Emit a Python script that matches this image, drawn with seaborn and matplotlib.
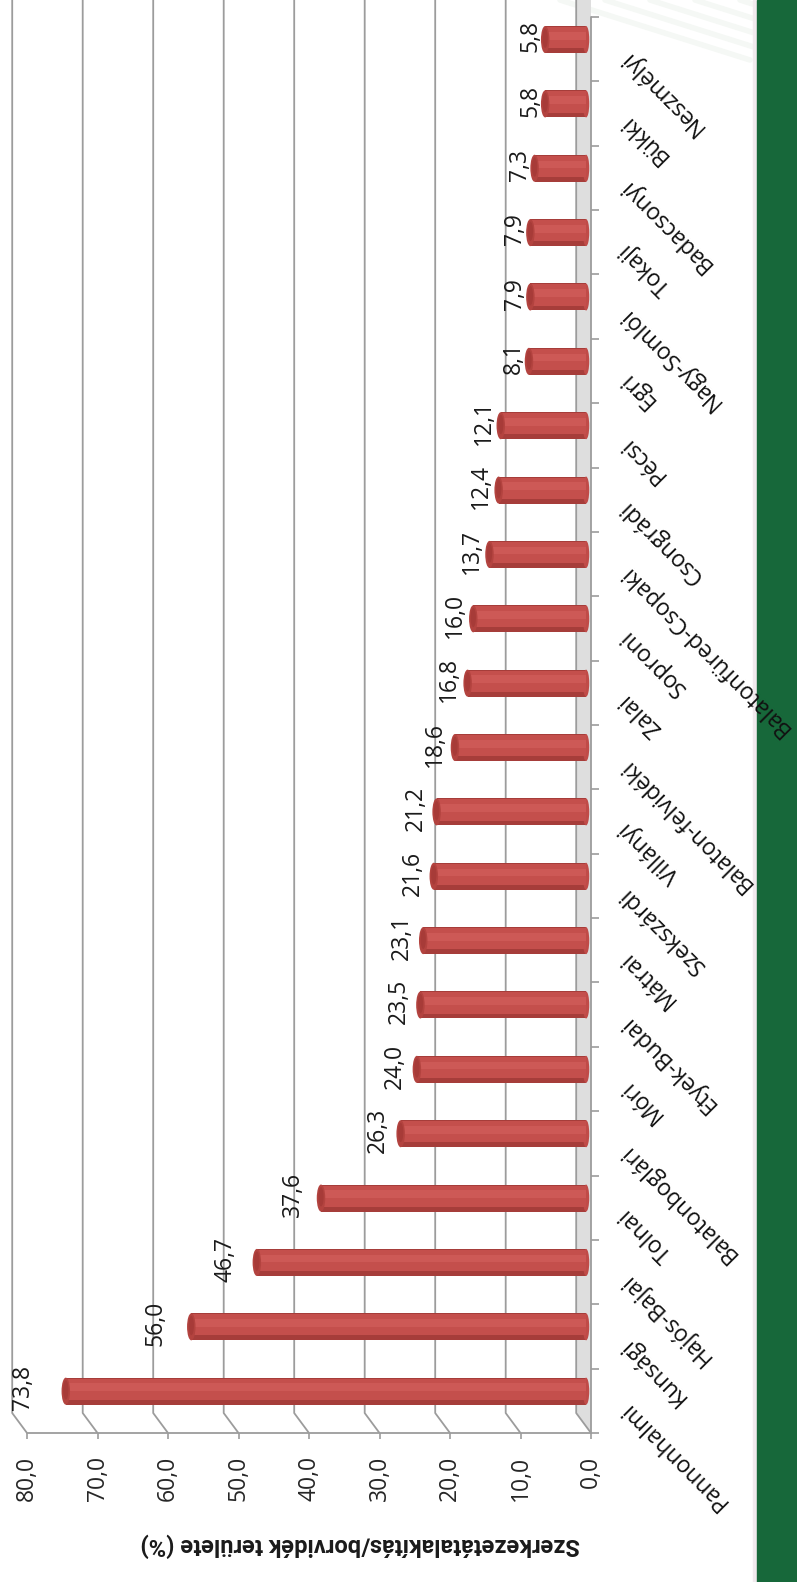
import matplotlib
matplotlib.use("Agg")
import matplotlib.pyplot as plt
import matplotlib.font_manager as fm
from matplotlib.patches import Ellipse, Rectangle
import pandas as pd
import seaborn as sns

# Borvidékek és a szerkezetátalakítás aránya (%)
borvidekek = ["Pannonhalmi", "Kunsági", "Hajós-Bajai", "Tolnai", "Balatonboglári",
              "Móri", "Etyek-Budai", "Mátrai", "Szekszárdi", "Villányi",
              "Balaton-felvidéki", "Zalai", "Soproni", "Balatonfüred-Csopaki",
              "Csongrádi", "Pécsi", "Egri", "Nagy-Somlói", "Tokaji",
              "Badacsonyi", "Bükki", "Neszmélyi"]
ertekek = [73.8, 56.0, 46.7, 37.6, 26.3, 24.0, 23.5, 23.1, 21.6, 21.2,
           18.6, 16.8, 16.0, 13.7, 12.4, 12.1, 8.1, 7.9, 7.9, 7.3, 5.8, 5.8]
tengely_ertekek = [0, 10, 20, 30, 40, 50, 60, 70, 80]
tengely_cim = "Szerkezetátalakítás/borvidék területe (%)"

df = pd.DataFrame({"borvidek": borvidekek, "ertek": ertekek})

sns.set_theme(style="white")
nevek = {f.name for f in fm.fontManager.ttflist}
plt.rcParams["font.family"] = ["Open Sans", "DejaVu Sans"]
cim_font = ["Liberation Sans Narrow"] if "Liberation Sans Narrow" in nevek else ["Roboto"]

fig = plt.figure(figsize=(7.97, 15.82), dpi=100)
fig.patch.set_facecolor("white")

# zöld sáv jobb oldalt + halvány díszcsíkok
fig.patches.append(Rectangle((753 / 797, 0), 4 / 797, 1, transform=fig.transFigure,
                             color="#f1eaee", zorder=-5))
fig.patches.append(Rectangle((757 / 797, 0), 40 / 797, 1, transform=fig.transFigure,
                             color="#17683a", zorder=-5))
for k in range(5):
    x0 = (560 + k * 45) / 797
    fig.add_artist(plt.Line2D([x0, x0 + 190 / 797], [1, 1 - 60 / 1582],
                              transform=fig.transFigure, color="#e6eee6",
                              lw=4, alpha=0.4, zorder=-5))

ax = fig.add_axes([10.8 / 797, 149 / 1582, (591 - 10.8) / 797, 1 - 149 / 1582])
ax.set_facecolor("none")
ax.set_zorder(2)

# hengerek
sns.barplot(data=df, x="ertek", y="borvidek", order=borvidekek, orient="h",
            color="#a63d3a", saturation=1, width=0.42, ax=ax, zorder=3)
eltolas_y, eltolas_x = 0.15, 0.7
for p in ax.containers[0]:
    p.set_y(p.get_y() + eltolas_y)
    p.set_x(eltolas_x)
    p.set_linewidth(0)

# 3D fal: rácsvonalak és padló
melyseg_x, melyseg_y = 2.1, 0.31
ax.fill([0, melyseg_x, melyseg_x, 0], [-0.5, -0.5 + melyseg_y, 21.5 + melyseg_y + 1, 21.5 + 1],
        color="#dedede", zorder=1, lw=0)
for v in tengely_ertekek:
    ax.plot([v, v + melyseg_x, v + melyseg_x], [-0.5, -0.5 + melyseg_y, 23],
            color="#9c9c9c", lw=1.3, zorder=2, solid_capstyle="butt")
ax.plot([0, 80], [-0.5, -0.5], color="#9c9c9c", lw=1.3, zorder=2, clip_on=False)
ax.plot([0, 0], [-0.5, 21.5], color="#9c9c9c", lw=1.3, zorder=2, clip_on=False)

for i, v in enumerate(ertekek):
    y = i + eltolas_y
    ax.barh(y + 0.03, v, left=eltolas_x, height=0.33, color="#c44f4c", lw=0, zorder=4)
    ax.barh(y + 0.06, v, left=eltolas_x, height=0.12, color="#cd5956", lw=0, zorder=5)
    ax.add_patch(Ellipse((v + eltolas_x, y), 1.2, 0.42, color="#b3433f", lw=0, zorder=6))
    ax.add_patch(Ellipse((v + eltolas_x, y + 0.02), 0.75, 0.3, color="#a73b38", lw=0, zorder=6))
    ax.add_patch(Ellipse((eltolas_x, y), 0.9, 0.42, color="#c04b48", lw=0, zorder=3))
    ax.annotate(f"{v:.1f}".replace(".", ","), xy=(eltolas_x + 1.06 * v, y + 0.05),
                ha="right", va="center", rotation=90, fontsize=16.5,
                color="#1a1a1a", annotation_clip=False, zorder=7)

# kategória címkék
for i, nev in enumerate(borvidekek):
    ax.annotate(nev, xy=(0, i), xytext=(23, -3), textcoords="offset points",
                rotation=135, rotation_mode="anchor", ha="right", va="center",
                fontsize=16.5, color="#111111", annotation_clip=False, zorder=7)

ax.set_xlim(82.3, 0)
ax.set_ylim(-0.5, 21.764)
for s in ax.spines.values():
    s.set_visible(False)

ax.set_xticks(tengely_ertekek)
ax.set_xticklabels([f"{t:.1f}".replace(".", ",") for t in tengely_ertekek],
                   rotation=90, va="top", ha="center", fontsize=16.5)
ax.tick_params(axis="x", bottom=True, direction="out", length=4.5, width=1.2,
               color="#9c9c9c", pad=12)

ax.yaxis.tick_right()
ax.set_yticks([i - 0.5 for i in range(len(borvidekek) + 1)])
ax.set_yticklabels([])
ax.tick_params(axis="y", right=True, left=False, direction="out", length=6,
               width=1.2, color="#9c9c9c")
ax.set_xlabel("")
ax.set_ylabel("")

fig.text(360 / 797, 1 - 1545 / 1582, tengely_cim, rotation=180, ha="center",
         va="center", fontsize=17, fontweight="bold", family=cim_font, color="#1a1a1a")

plt.savefig("out.png", dpi=100)
